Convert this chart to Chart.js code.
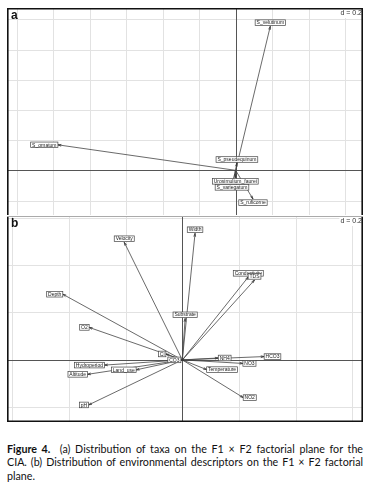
<!DOCTYPE html>
<html>
<head>
<meta charset="utf-8">
<script src="https://cdn.jsdelivr.net/npm/chart.js@4.4.1/dist/chart.umd.min.js"></script>
<style>
  body { margin: 0; background: #fff; }
  #wrap { position: relative; width: 370px; height: 493px; overflow: hidden; }
  .panel { position: absolute; left: 7px; width: 356px; }
  #pa { top: 8px; height: 207px; }
  #pb { top: 216px; height: 206px; }
  #cap { position: absolute; left: 7px; top: 442px; width: 356px; font-family: "Lato", "Noto Sans", sans-serif; font-size: 10.7px; line-height: 13.3px; color: #111; }
  #cap div { text-align: justify; text-align-last: justify; white-space: nowrap; }
  #cap div.last { text-align-last: left; }
</style>
</head>
<body>
<div id="wrap">
  <div class="panel" id="pa"><canvas id="chartA"></canvas></div>
  <div class="panel" id="pb"><canvas id="chartB"></canvas></div>
  <div id="cap">
    <div><b>Figure 4.</b>&nbsp; (a) Distribution of taxa on the F1 × F2 factorial plane for the</div>
    <div>CIA. (b) Distribution of environmental descriptors on the F1 × F2 factorial</div>
    <div class="last">plane.</div>
  </div>
</div>
<script>
// panel a: taxa scores on F1 x F2
var taxaNames = ["S_velutinum", "S_ornatum", "S_pseudequinum", "Urosimulium_faurei", "S_variegatum", "S_ruficorne"];
var taxaF1 = [0.19, -0.974, 0.007, -0.002, -0.02, 0.095];
var taxaF2 = [0.955, 0.169, 0.048, -0.049, -0.089, -0.19];

// panel b: environmental descriptors on F1 x F2
var envNames = ["Width", "Velocity", "Conductivity", "TDS", "Depth", "Substrate", "O2", "Cl", "CO3",
  "NH4", "HCO3", "NO3", "Temperature", "NO2", "Hydroperiod", "Land_use", "Altitude", "pH"];
var envF1 = [0.045, -0.205, 0.233, 0.255, -0.422, 0.01, -0.329, -0.058, -0.005,
  0.127, 0.289, 0.214, 0.086, 0.215, -0.275, -0.163, -0.335, -0.331];
var envF2 = [0.534, 0.496, 0.35, 0.337, 0.277, 0.175, 0.137, 0.025, 0.0,
  0.008, 0.014, -0.015, -0.041, -0.159, -0.022, -0.042, -0.061, -0.19];

var gridStep = 0.2;

// draws grid, arrow heads, boxed labels, frame (ade4 s.arrow look)
function arrowPlot(letter, names, f1, f2, frameSides) {
  return {
    id: 'arrowPlot' + letter,
    beforeDatasetsDraw: function(chart) {
      var ctx = chart.ctx, xs = chart.scales.x, ys = chart.scales.y, a = chart.chartArea;
      ctx.save();
      ctx.lineWidth = 1;
      ctx.strokeStyle = '#e2e2e2';
      var v;
      for (v = Math.ceil(xs.min / gridStep) * gridStep; v <= xs.max; v += gridStep) {
        if (Math.abs(v) < 1e-9) continue;
        var px = Math.round(xs.getPixelForValue(v)) + 0.5;
        ctx.beginPath(); ctx.moveTo(px, a.top); ctx.lineTo(px, a.bottom); ctx.stroke();
      }
      for (v = Math.ceil(ys.min / gridStep) * gridStep; v <= ys.max; v += gridStep) {
        if (Math.abs(v) < 1e-9) continue;
        var py = Math.round(ys.getPixelForValue(v)) + 0.5;
        ctx.beginPath(); ctx.moveTo(a.left, py); ctx.lineTo(a.right, py); ctx.stroke();
      }
      ctx.strokeStyle = '#555';
      var ox = Math.round(xs.getPixelForValue(0)) + 0.5, oy = Math.round(ys.getPixelForValue(0)) + 0.5;
      ctx.beginPath(); ctx.moveTo(ox, a.top); ctx.lineTo(ox, a.bottom); ctx.stroke();
      ctx.beginPath(); ctx.moveTo(a.left, oy); ctx.lineTo(a.right, oy); ctx.stroke();
      ctx.restore();
    },
    afterDatasetsDraw: function(chart) {
      var ctx = chart.ctx, xs = chart.scales.x, ys = chart.scales.y, a = chart.chartArea;
      var ox = xs.getPixelForValue(0), oy = ys.getPixelForValue(0);
      ctx.save();
      // arrow heads
      ctx.strokeStyle = '#333';
      ctx.lineWidth = 0.8;
      for (var i = 0; i < names.length; i++) {
        var tx = xs.getPixelForValue(f1[i]), ty = ys.getPixelForValue(f2[i]);
        var ang = Math.atan2(ty - oy, tx - ox), len = 3.5, sp = Math.PI / 12;
        ctx.beginPath();
        ctx.moveTo(tx - len * Math.cos(ang - sp), ty - len * Math.sin(ang - sp));
        ctx.lineTo(tx, ty);
        ctx.lineTo(tx - len * Math.cos(ang + sp), ty - len * Math.sin(ang + sp));
        ctx.stroke();
      }
      // labels in boxes, pushed outward like scatterutil.eti.circ
      ctx.font = '5px "Liberation Sans", Arial, sans-serif';
      ctx.textAlign = 'center';
      ctx.textBaseline = 'middle';
      var bh = 5.6;
      for (var j = 0; j < names.length; j++) {
        var x = f1[j], y = f2[j];
        var px = xs.getPixelForValue(x), py = ys.getPixelForValue(y);
        var w = ctx.measureText(' ' + names[j] + ' ').width;
        if (x > y && x > -y) px += w / 2;
        else if (x > y && x <= -y) py += bh / 2 + 0.8;
        else if (x <= y && x <= -y) px -= w / 2;
        else py -= bh / 2 + 0.8;
        ctx.fillStyle = '#fff';
        ctx.fillRect(px - w / 2, py - bh / 2, w, bh);
        ctx.strokeStyle = '#444';
        ctx.lineWidth = 0.7;
        ctx.strokeRect(px - w / 2, py - bh / 2, w, bh);
        ctx.fillStyle = '#222';
        ctx.fillText(names[j], px, py + 0.3);
      }
      // panel letter and scale note
      ctx.fillStyle = '#111';
      ctx.font = 'bold 12px "Liberation Sans", Arial, sans-serif';
      ctx.textAlign = 'left';
      ctx.fillText(letter, a.left + 4, a.top + 7.5);
      ctx.font = '7px "Liberation Sans", Arial, sans-serif';
      ctx.textAlign = 'right';
      var dw = ctx.measureText('d = 0.2').width;
      ctx.fillStyle = '#fff';
      ctx.fillRect(a.right - dw - 2, a.top + 1, dw + 2, 9);
      ctx.fillStyle = '#333';
      ctx.fillText('d = 0.2', a.right - 1, a.top + 5.5);
      // frame
      ctx.lineWidth = 1.6;
      ctx.strokeStyle = '#111';
      var L = a.left + 0.8, R = a.right - 0.8, T = a.top + 0.8, B = a.bottom - 0.8;
      if (frameSides.indexOf('t') >= 0) { ctx.beginPath(); ctx.moveTo(a.left, T); ctx.lineTo(a.right, T); ctx.stroke(); }
      if (frameSides.indexOf('b') >= 0) { ctx.beginPath(); ctx.moveTo(a.left, B); ctx.lineTo(a.right, B); ctx.stroke(); }
      ctx.beginPath(); ctx.moveTo(L, a.top); ctx.lineTo(L, a.bottom); ctx.stroke();
      ctx.beginPath(); ctx.moveTo(R, a.top); ctx.lineTo(R, a.bottom); ctx.stroke();
      if (frameSides.indexOf('g') >= 0) {
        ctx.lineWidth = 1;
        ctx.strokeStyle = '#aaa';
        ctx.beginPath(); ctx.moveTo(a.left, a.top + 0.5); ctx.lineTo(a.right, a.top + 0.5); ctx.stroke();
      }
      ctx.restore();
    }
  };
}

function makeArrowSets(f1, f2) {
  var sets = [];
  for (var i = 0; i < f1.length; i++) {
    sets.push({
      data: [{ x: 0, y: 0 }, { x: f1[i], y: f2[i] }],
      showLine: true,
      borderColor: '#444',
      borderWidth: 0.8,
      pointRadius: 0
    });
  }
  return sets;
}

function makeChart(id, letter, names, f1, f2, xr, yr, sides) {
  return new Chart(document.getElementById(id), {
    type: 'scatter',
    data: { datasets: makeArrowSets(f1, f2) },
    options: {
      responsive: true,
      maintainAspectRatio: false,
      animation: false,
      events: [],
      layout: { padding: 0 },
      plugins: { legend: { display: false }, tooltip: { enabled: false } },
      scales: {
        x: { type: 'linear', display: false, min: xr[0], max: xr[1] },
        y: { type: 'linear', display: false, min: yr[0], max: yr[1] }
      }
    },
    plugins: [arrowPlot(letter, names, f1, f2, sides)]
  });
}

makeChart('chartA', 'a', taxaNames, taxaF1, taxaF2, [-1.253, 0.698], [-0.296, 1.076], 't');
makeChart('chartB', 'b', envNames, envF1, envF2, [-0.619, 0.638], [-0.262, 0.607], 'bg');
</script>
</body>
</html>
